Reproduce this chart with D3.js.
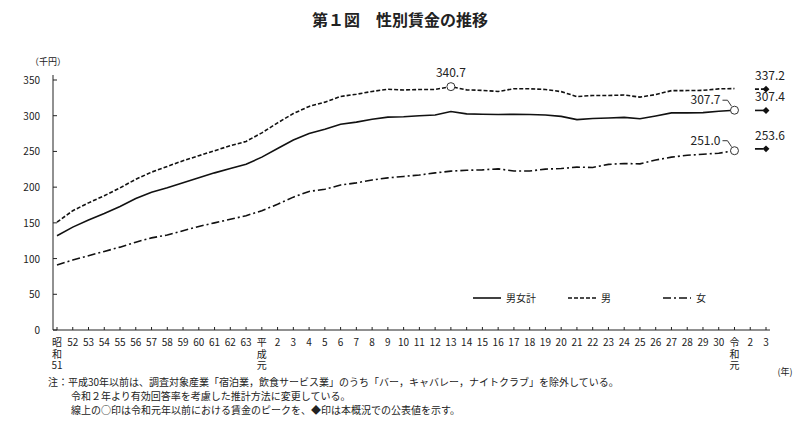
<!DOCTYPE html>
<html>
<head>
<meta charset="utf-8">
<script src="https://d3js.org/d3.v7.min.js"></script>
<style>
body{margin:0;background:#fff;font-family:"Noto Sans CJK JP","DejaVu Serif",serif;}
text{fill:#222;}
</style>
</head>
<body>
<svg id="chart" width="800" height="426"></svg>
<script>
// 1976 (昭和51) .. 2019 (令和元)
var years = d3.range(1976, 2020);
var total = [132,144,154,163,173,184,193,199,206,213,220,226,232,242,254,266,275,281,288,291,295,298,298.5,300,301,305.8,302.6,302.1,301.6,302,301.8,301.1,299.1,294.5,296.2,296.8,297.7,295.7,299.6,304,304,304.3,306.2,307.7];
var male = [151,167,178,188,199,211,221,229,237,244,251,258,264,276,290,303,313,319,327,330,334,337,336,336.7,336.8,340.7,336.2,335.5,333.9,337.8,337.7,336.7,333.7,326.8,328.3,328.3,329,326,329.6,335.1,335.2,335.5,337.6,338.0];
var female = [91,98,104,110,116,123,129,133,139,145,150,155,160,167,176,186,194,197,203,206,210,213,215,217,220,222.4,223.6,224.2,225.6,222.5,222.6,225.2,226.1,228,227.6,231.9,233.1,232.6,238,242,244.6,246.1,247.5,251.0];
var new2021 = {total:307.4, male:337.2, female:253.6};
var tickLabels = ["昭\n和\n51","52","53","54","55","56","57","58","59","60","61","62","63","平\n成\n元","2","3","4","5","6","7","8","9","10","11","12","13","14","15","16","17","18","19","20","21","22","23","24","25","26","27","28","29","30","令\n和\n元","2","3"];
var yTicks = d3.range(0, 351, 50);

var svg = d3.select("#chart");
var x = d3.scaleLinear().domain([1976, 2021]).range([57, 766]);
var y = d3.scaleLinear().domain([0, 350]).range([330, 80]);

svg.append("text").attr("x", 400).attr("y", 26).attr("text-anchor", "middle")
  .style("font-size", "16px").style("font-weight", "bold").text("第１図　性別賃金の推移");
svg.append("text").attr("x", 30).attr("y", 65).style("font-size", "9px").text("（千円）");

// axes
svg.append("line").attr("x1", 53).attr("x2", 53).attr("y1", 75).attr("y2", 330).attr("stroke", "#222");
svg.append("line").attr("x1", 53).attr("x2", 770).attr("y1", 330).attr("y2", 330).attr("stroke", "#222");
svg.selectAll(".yt").data(yTicks).enter().append("text")
  .attr("x", 40).attr("y", function(d){ return y(d) + 4; }).attr("text-anchor", "end")
  .style("font-size", "10px").text(function(d){ return d; });
svg.selectAll(".ytk").data(yTicks).enter().append("line")
  .attr("x1", 53).attr("x2", 57).attr("y1", function(d){ return y(d); }).attr("y2", function(d){ return y(d); })
  .attr("stroke", "#222");
svg.selectAll(".xtk").data(tickLabels).enter().append("line")
  .attr("x1", function(d, i){ return x(1976 + i); }).attr("x2", function(d, i){ return x(1976 + i); })
  .attr("y1", 327).attr("y2", 330).attr("stroke", "#222");
tickLabels.forEach(function(t, i){
  var g = svg.append("text").attr("x", x(1976 + i)).attr("y", 346).attr("text-anchor", "middle").style("font-size", "10px");
  t.split("\n").forEach(function(s, j){
    g.append("tspan").attr("x", x(1976 + i)).attr("dy", j ? 11.5 : 0).text(s);
  });
});
svg.append("text").attr("x", 785).attr("y", 375).attr("text-anchor", "middle").style("font-size", "9px").text("(年)");

var series = [
  {v: total, k: "total", dash: null, name: "男女計", lx: 473},
  {v: male, k: "male", dash: "4,2", name: "男", lx: 568},
  {v: female, k: "female", dash: "8,3,2,3", name: "女", lx: 663}
];
var line = d3.line().x(function(d, i){ return x(years[i]); }).y(function(d){ return y(d); });
series.forEach(function(s){
  svg.append("path").datum(s.v).attr("d", line).attr("fill", "none").attr("stroke", "#111")
    .attr("stroke-width", 1.6).attr("stroke-dasharray", s.dash);
  var v = new2021[s.k];
  svg.append("line").attr("x1", x(2020.3)).attr("x2", x(2021)).attr("y1", y(v)).attr("y2", y(v))
    .attr("stroke", "#111").attr("stroke-width", 1.6).attr("stroke-dasharray", s.dash);
  svg.append("path").attr("d", d3.symbol(d3.symbolSquare, 24)())
    .attr("transform", "translate(" + x(2021) + "," + y(v) + ") rotate(45)").attr("fill", "#111");
  svg.append("text").attr("x", x(2021) + 4).attr("y", y(v) - 9).attr("text-anchor", "middle")
    .style("font-size", "12px").text(v.toFixed(1));
  // legend
  svg.append("line").attr("x1", s.lx).attr("x2", s.lx + 28).attr("y1", 298).attr("y2", 298)
    .attr("stroke", "#111").attr("stroke-width", 1.6).attr("stroke-dasharray", s.dash);
  svg.append("text").attr("x", s.lx + 33).attr("y", 302).style("font-size", "10px").text(s.name);
});

// peaks
var peaks = [
  {yr: 2001, v: 340.7, dx: 0, dy: -10, anchor: "middle", lead: false},
  {yr: 2019, v: 307.7, dx: -14, dy: -8, anchor: "end", lead: true},
  {yr: 2019, v: 251.0, dx: -14, dy: -8, anchor: "end", lead: true}
];
peaks.forEach(function(p){
  var cx = x(p.yr), cy = y(p.v);
  if (p.lead) {
    svg.append("path").attr("d", "M" + (cx - 12) + "," + (cy - 10) + "L" + (cx - 7) + "," + (cy - 10) + "L" + (cx - 3) + "," + (cy - 4))
      .attr("fill", "none").attr("stroke", "#333");
  }
  svg.append("circle").attr("cx", cx).attr("cy", cy).attr("r", 4).attr("fill", "#fff").attr("stroke", "#333");
  svg.append("text").attr("x", cx + p.dx).attr("y", cy + p.dy - (p.lead ? -2 : 0)).attr("text-anchor", p.anchor)
    .style("font-size", "12px").text(p.v.toFixed(1));
});

var notes = ["注：平成30年以前は、調査対象産業「宿泊業，飲食サービス業」のうち「バー，キャバレー，ナイトクラブ」を除外している。",
  "令和２年より有効回答率を考慮した推計方法に変更している。",
  "線上の○印は令和元年以前における賃金のピークを、◆印は本概況での公表値を示す。"];
notes.forEach(function(n, i){
  svg.append("text").attr("x", i ? 71 : 48).attr("y", 386 + i * 14).style("font-size", "10px").text(n);
});
</script>
</body>
</html>
